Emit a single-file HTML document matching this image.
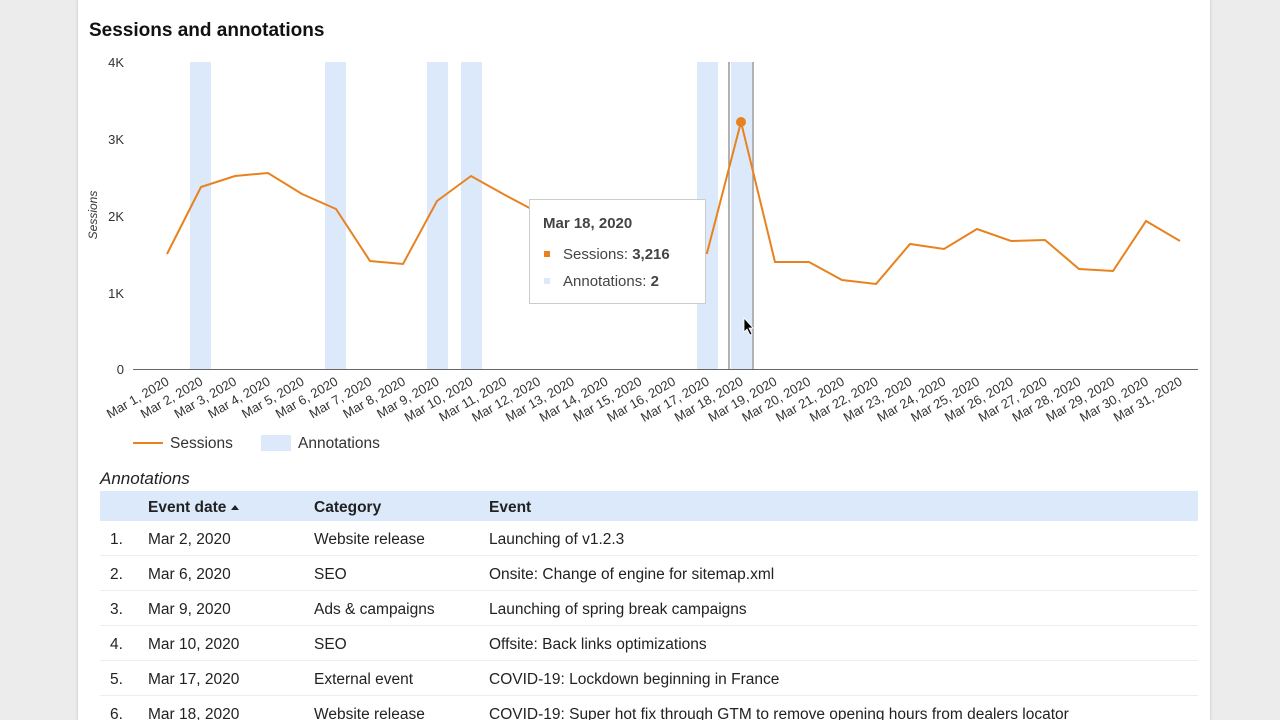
<!DOCTYPE html>
<html><head><style>
body{margin:0;width:1280px;height:720px;background:#ececec;overflow:hidden;font-family:"Liberation Sans",sans-serif}
.card{position:absolute;left:78px;top:0;width:1132px;height:720px;background:#fff;box-shadow:0 0 3px rgba(0,0,0,.2)}
</style></head><body>
<div class="card"></div>
<svg width="1280" height="720" style="position:absolute;left:0;top:0" font-family="Liberation Sans, sans-serif">
<text x="89" y="36" font-size="19" font-weight="bold" fill="#111">Sessions and annotations</text>
<g fill="#dce9fa">
<rect x="190" y="62" width="21" height="307"/><rect x="325" y="62" width="21" height="307"/>
<rect x="427" y="62" width="21" height="307"/><rect x="461" y="62" width="21" height="307"/>
<rect x="697" y="62" width="21" height="307"/><rect x="731" y="62" width="21" height="307"/>
</g>
<line x1="729" y1="62" x2="729" y2="369" stroke="#999" stroke-width="1.5"/>
<line x1="753" y1="62" x2="753" y2="369" stroke="#999" stroke-width="1.5"/>
<g font-size="13" fill="#333" text-anchor="end">
<text x="124" y="67">4K</text><text x="124" y="144">3K</text><text x="124" y="221">2K</text><text x="124" y="298">1K</text><text x="124" y="374">0</text>
</g>
<text transform="translate(97,215) rotate(-90)" font-size="12" font-style="italic" fill="#333" text-anchor="middle">Sessions</text>
<line x1="133" y1="369.5" x2="1198" y2="369.5" stroke="#666"/>
<polyline fill="none" stroke="#e8821e" stroke-width="2" points="167,254 201,187 235,176 268,173 302,194 336,209 370,261 403,264 437,201 471,176 505,195 539,213 572,230 606,240 640,245 674,250 707,253 741,122 775,262 809,262 842,280 876,284 910,244 944,249 977,229 1011,241 1045,240 1079,269 1113,271 1146,221 1180,241"/>
<circle cx="741" cy="122" r="5" fill="#e8821e"/>
<g font-size="13" fill="#333" text-anchor="end" id="xl"></g>
<line x1="133" y1="443" x2="163" y2="443" stroke="#e8821e" stroke-width="2"/>
<text x="170" y="448" font-size="15.5" fill="#333">Sessions</text>
<rect x="261" y="435" width="30" height="16" fill="#dce9fa"/>
<text x="298" y="448" font-size="15.5" fill="#333">Annotations</text>
<rect x="529.5" y="199.5" width="176" height="104" fill="#fff" stroke="#ccc"/>
<text x="543" y="228" font-size="15" font-weight="bold" fill="#444">Mar 18, 2020</text>
<rect x="544" y="251" width="6" height="6" fill="#e8821e"/>
<text x="563" y="259" font-size="15" fill="#444">Sessions: <tspan font-weight="bold">3,216</tspan></text>
<rect x="544" y="278" width="6" height="6" fill="#dce9fa"/>
<text x="563" y="286" font-size="15" fill="#444">Annotations: <tspan font-weight="bold">2</tspan></text>
<path d="M744,318 l0,14 l3,-3 l3,6 l2,-1 l-3,-6 l4,0 z" fill="#000" stroke="#fff" stroke-width="0.8"/>
<text x="100" y="484" font-size="17" font-style="italic" fill="#222">Annotations</text>
<rect x="100" y="491" width="1098" height="30" fill="#dce9fa"/>
<g font-size="15.5" font-weight="bold" fill="#222">
<text x="148" y="512">Event date</text><text x="314" y="512">Category</text><text x="489" y="512">Event</text>
</g>
<path d="M231,510 l4,-5 l4,5z" fill="#222"/>
<g font-size="15.5" fill="#222">
<text x="110" y="544">1.</text><text x="148" y="544">Mar 2, 2020</text><text x="314" y="544">Website release</text><text x="489" y="544">Launching of v1.2.3</text>
<text x="110" y="579">2.</text><text x="148" y="579">Mar 6, 2020</text><text x="314" y="579">SEO</text><text x="489" y="579">Onsite: Change of engine for sitemap.xml</text>
<text x="110" y="614">3.</text><text x="148" y="614">Mar 9, 2020</text><text x="314" y="614">Ads &amp; campaigns</text><text x="489" y="614">Launching of spring break campaigns</text>
<text x="110" y="649">4.</text><text x="148" y="649">Mar 10, 2020</text><text x="314" y="649">SEO</text><text x="489" y="649">Offsite: Back links optimizations</text>
<text x="110" y="684">5.</text><text x="148" y="684">Mar 17, 2020</text><text x="314" y="684">External event</text><text x="489" y="684">COVID-19: Lockdown beginning in France</text>
<text x="110" y="719">6.</text><text x="148" y="719">Mar 18, 2020</text><text x="314" y="719">Website release</text><text x="489" y="719">COVID-19: Super hot fix through GTM to remove opening hours from dealers locator</text>
</g>
<g stroke="#eee"><line x1="100" y1="555.5" x2="1198" y2="555.5"/><line x1="100" y1="590.5" x2="1198" y2="590.5"/><line x1="100" y1="625.5" x2="1198" y2="625.5"/><line x1="100" y1="660.5" x2="1198" y2="660.5"/><line x1="100" y1="695.5" x2="1198" y2="695.5"/></g>
</svg>
<script>
var g=document.getElementById('xl'),s='';
for(var i=0;i<31;i++){var x=167+i*33.77;s+='<text transform="translate('+(x+3)+',384) rotate(-30)">Mar '+(i+1)+', 2020</text>';}
g.innerHTML=s;
</script>
</body></html>
